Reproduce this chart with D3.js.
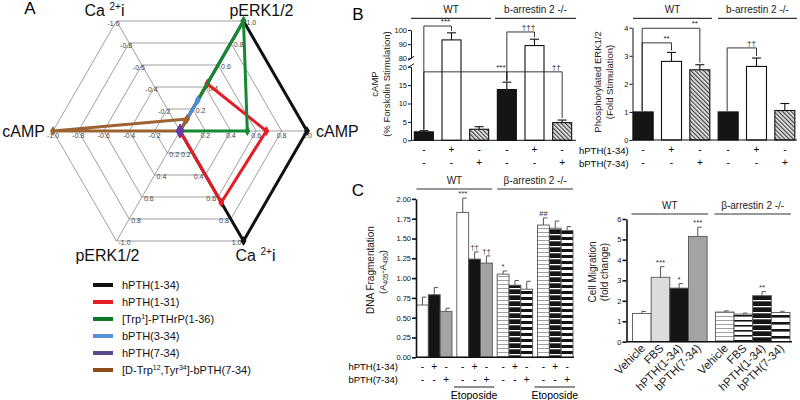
<!DOCTYPE html>
<html><head><meta charset="utf-8">
<script src="https://cdn.jsdelivr.net/npm/d3@7"></script>
<style>body{margin:0;background:#fff} svg{display:block}</style>
</head><body><svg id="c" width="800" height="400"></svg>
<script>
// ---------------- DATA ----------------
// Panel A radar: spokes in drawing order
const radarAxisNames = ["pERK1/2","cAMP","Ca2+i","pERK1/2","cAMP","Ca2+i"];
const radarAngles = [60, 0, -60, -120, 180, 120];
const radarTickLabels = [
  ["0.2","0.4","0.6","0.8","1.0"],
  ["0.2","0.4","0.6","0.8","1.0"],
  ["0.2","0.4","0.6","0.8","1.0"],
  ["0.2","0.4","0.6","0.8","-1.0"],
  ["-0.2","-0.4","-0.6","-0.8","-1.0"],
  ["-0.2","-0.4","-0.6","-0.8","-1.0"]
];
const radarTickValues = [0.2,0.4,0.6,0.8,1.0];
const seriesNames = ["hPTH(1-34)","hPTH(1-31)","[Trp1]-PTHrP(1-36)","bPTH(3-34)","hPTH(7-34)","[D-Trp12,Tyr34]-bPTH(7-34)"];
const valHPTH134 = [1, 1, 1, 0, 0, 0];
const valHPTH131 = [0.43, 0.68, 0.65, 0, 0, 0];
const valTrpPTHrP = [1, 0.53, 0, 0, 0, 0];
const valBPTH334 = [0.28, 0, 0, 0, 0, 0];
const valHPTH734 = [0, 0, 0, 0, 0, 0];
const valDTrp = [0, 0, 0, -0.11, 1, 0];

// Panel B
const bGroups = ["WT","b-arrestin 2 -/-"];
const bRowHPTH = ["-","+","-","-","+","-"];
const bRowBPTH = ["-","-","+","-","-","+"];
const campVals = [2.3, 93, 3.0, 13.8, 89, 4.8];
const campErr = [0.3, 5, 0.7, 2.0, 4.5, 0.7];
const campLowTicks = [0,5,10,15,20];
const campHighTicks = [80,90,100];
const campSigFrom = [0, 0, 3, 3];
const campSigTo = [1, 3, 5, 4];
const campSigLevel = [102.8, 18.6, 18.6, 98.6];
const campSigLabel = ["***","***","\u2020\u2020","\u2020\u2020\u2020"];
const perkVals = [1.0, 2.8, 2.5, 1.0, 2.62, 1.05];
const perkErr = [0, 0.32, 0.18, 0, 0.3, 0.25];
const perkTicks = [0,1,2,3,4];
const perkSigFrom = [0, 0, 3];
const perkSigTo = [1, 2, 4];
const perkSigLevel = [3.46, 3.98, 3.28];
const perkSigLabel = ["**","**","\u2020\u2020"];

// Panel C
const cGroups = ["WT","\u03b2-arrestin 2 -/-"];
const dnaVals = [0.66,0.79,0.58, 1.83,1.24,1.19, 1.05,0.91,0.86, 1.67,1.63,1.60];
const dnaErr  = [0.10,0.09,0.04, 0.18,0.09,0.09, 0.04,0.06,0.10, 0.09,0.09,0.05];
const dnaSig  = ["","","", "***","\u2020\u2020","\u2020\u2020", "*","","", "##","",""];
const dnaRowHPTH = ["-","+","-","-","+","-","-","+","-","-","+","-"];
const dnaRowBPTH = ["-","-","+","-","-","+","-","-","+","-","-","+"];
const dnaTicks = [0,0.25,0.5,0.75,1.0,1.25,1.5,1.75,2.0];
const migCats = ["Vehicle","FBS","hPTH(1-34)","bPTH(7-34)"];
const migWT = [1.38, 3.15, 2.62, 5.15];
const migWTErr = [0.10, 0.52, 0.22, 0.45];
const migKO = [1.45, 1.35, 2.25, 1.43];
const migKOErr = [0.06, 0.05, 0.20, 0.06];
const migSigWT = ["","***","*","***"];
const migSigKO = ["","","**",""];
const migTicks = [0,1,2,3,4,5,6];

// ---------------- SETUP ----------------
const FONT = '"Liberation Sans", Arial, Helvetica, sans-serif';
const svg = d3.select("#c").attr("font-family", FONT);
const defs = svg.append("defs");
function stripe(id, h, bg, fg, lh){
  const p = defs.append("pattern").attr("id",id).attr("patternUnits","userSpaceOnUse").attr("width",8).attr("height",h);
  p.append("rect").attr("width",8).attr("height",h).attr("fill",bg);
  p.append("rect").attr("width",8).attr("height",lh).attr("fill",fg);
}
stripe("sGray",4,"#fff","#a0a0a0",1);
stripe("sBlkW",6,"#151515","#fff",1.3);
stripe("sBW",6,"#151515","#fff",3);
stripe("sBold",7,"#fff","#151515",2.6);
stripe("sThin",5,"#fff","#151515",1.6);
const hp = defs.append("pattern").attr("id","hatch").attr("patternUnits","userSpaceOnUse")
  .attr("width",3).attr("height",3).attr("patternTransform","rotate(-45)");
hp.append("rect").attr("width",3).attr("height",3).attr("fill","#e6e6e6");
hp.append("rect").attr("width",1.2).attr("height",3).attr("fill","#444");

const fills = {black:"#151515", white:"#fff", hatch:"url(#hatch)", gray:"#a3a3a3", lgray:"#dcdcdc",
  sGray:"url(#sGray)", sBlkW:"url(#sBlkW)", sBW:"url(#sBW)", sBold:"url(#sBold)", sThin:"url(#sThin)"};

// ---------------- PANEL A ----------------
const gA = svg.append("g");
const cx = 180, cy = 131;
const rS = d3.scaleLinear().domain([0,1]).range([0,127]);
const pt = (v,a) => [cx + rS(v)*Math.cos(a*Math.PI/180), cy - rS(v)*Math.sin(a*Math.PI/180)];
const closed = d3.line().curve(d3.curveLinearClosed);

radarTickValues.forEach(k => {
  gA.append("path").attr("d", closed(radarAngles.map(a => pt(k,a))))
    .attr("fill","none").attr("stroke","#777").attr("stroke-width",0.7);
});
radarAngles.forEach(a => {
  const e = pt(1,a);
  gA.append("line").attr("x1",cx).attr("y1",cy).attr("x2",e[0]).attr("y2",e[1]).attr("stroke","#777").attr("stroke-width",0.7);
});
const tickOff = [[3,4,"start"],[0,7,"middle"],[-2,4,"end"],[2,4,"start"],[0,7,"middle"],[-3,5,"middle"]];
radarAngles.forEach((a,i) => {
  radarTickValues.forEach((k,j) => {
    const p = pt(k,a);
    gA.append("text").attr("x",p[0]+tickOff[i][0]).attr("y",p[1]+tickOff[i][1])
      .attr("text-anchor",tickOff[i][2]).attr("font-size",7).attr("fill","#444").text(radarTickLabels[i][j]);
  });
});
gA.append("text").attr("x",cx).attr("y",cy+7).attr("text-anchor","middle").attr("font-size",7).attr("fill","#444").text("0");

const nameOff = [[18,-5,"middle"],[9,6,"start"],[12,20,"middle"],[-9,20,"middle"],[-8,6,"end"],[-12,-5,"middle"]];
radarAngles.forEach((a,i) => {
  const e = pt(1,a);
  const t = gA.append("text").attr("x",e[0]+nameOff[i][0]).attr("y",e[1]+nameOff[i][1])
    .attr("text-anchor",nameOff[i][2]).attr("font-size",16).attr("fill","#111");
  if (radarAxisNames[i] === "Ca2+i") {
    t.append("tspan").text("Ca ");
    t.append("tspan").attr("font-size",10).attr("dy",-6).text("2+");
    t.append("tspan").attr("dy",6).text("i");
  } else t.text(radarAxisNames[i]);
});

const seriesVals = [valHPTH134, valHPTH131, valTrpPTHrP, valBPTH334, valDTrp, valHPTH734];
const seriesIdx = [0,1,2,3,5,4];
const seriesColors = ["#111","#e41e26","#138a32","#4a8fd8","#6a3aa6","#9c6232"];
const legendColors = ["#111","#e41e26","#0d7a26","#5593dc","#5a4a8a","#8d4a1a"];
seriesVals.forEach((vals, s) => {
  const col = seriesColors[seriesIdx[s]];
  const pts = vals.map((v,i) => pt(v, radarAngles[i]));
  gA.append("path").attr("d", closed(pts)).attr("fill","none").attr("stroke",col)
    .attr("stroke-width",3).attr("stroke-linejoin","round");
  pts.forEach(p => gA.append("path").attr("d", d3.symbol().type(d3.symbolDiamond).size(seriesIdx[s]===4?55:30)())
    .attr("transform",`translate(${p[0]},${p[1]})`).attr("fill",col));
});

gA.append("text").attr("x",30).attr("y",14).attr("font-size",17).attr("text-anchor","middle").text("A");

const lg = gA.append("g");
seriesNames.forEach((n,i) => {
  const y = 285 + i*17;
  lg.append("line").attr("x1",93).attr("x2",113).attr("y1",y).attr("y2",y).attr("stroke",legendColors[i]).attr("stroke-width",4);
  const t = lg.append("text").attr("x",122).attr("y",y+4).attr("font-size",11).attr("fill","#111");
  const m = n.match(/^(\[Trp)(1)(\].*)$/);
  const m2 = n.match(/^(\[D-Trp)(12)(,Tyr)(34)(\].*)$/);
  if (m) { t.append("tspan").text(m[1]); t.append("tspan").attr("font-size",7).attr("dy",-4).text(m[2]); t.append("tspan").attr("dy",4).text(m[3]); }
  else if (m2) { t.append("tspan").text(m2[1]); t.append("tspan").attr("font-size",7).attr("dy",-4).text(m2[2]);
    t.append("tspan").attr("dy",4).text(m2[3]); t.append("tspan").attr("font-size",7).attr("dy",-4).text(m2[4]); t.append("tspan").attr("dy",4).text(m2[5]); }
  else t.text(n);
});

// ---------------- helpers ----------------
function styleAxis(g, fs, sw){
  g.attr("font-family",FONT).attr("font-size",fs);
  g.selectAll("path.domain").attr("stroke","#111").attr("stroke-width",sw);
  g.selectAll(".tick line").attr("stroke","#111").attr("stroke-width",sw);
  g.selectAll(".tick text").attr("fill","#111");
}
function groupLine(g, x1, x2, y, label, fs){
  g.append("line").attr("x1",x1).attr("x2",x2).attr("y1",y).attr("y2",y).attr("stroke","#333").attr("stroke-width",1.2);
  g.append("text").attr("x",(x1+x2)/2).attr("y",y-5).attr("text-anchor","middle").attr("font-size",fs).attr("fill","#222").text(label);
}
function rotLabel(g, x, y, fs){
  return g.append("text").attr("transform",`translate(${x},${y}) rotate(-90)`).attr("text-anchor","middle").attr("font-size",fs).attr("fill","#222");
}
const intFmt = d3.format("d");

// ---------------- PANEL B (cAMP) ----------------
const gB = svg.append("g");
gB.append("text").attr("x",358).attr("y",20).attr("font-size",17).attr("text-anchor","middle").text("B");
const xB1 = d3.scalePoint().domain(d3.range(6)).range([410,576]).padding(0.5);
const yLow = d3.scaleLinear().domain([0,20]).range([140.3,66.7]);
const yUp = d3.scaleLinear().domain([80,100]).range([58.3,30]);
const yC = v => v <= 20 ? yLow(v) : yUp(v);
const bStyle = ["black","white","hatch","black","white","hatch"];
const BW = 19;
campVals.forEach((v,i) => {
  const c = xB1(i);
  gB.append("rect").attr("x",c-BW/2).attr("y",yC(v)).attr("width",BW).attr("height",yLow(0)-yC(v))
    .attr("fill",fills[bStyle[i]]).attr("stroke","#111").attr("stroke-width",1.1);
  const t = yC(v+campErr[i]);
  gB.append("line").attr("x1",c).attr("x2",c).attr("y1",yC(v)).attr("y2",t).attr("stroke","#111").attr("stroke-width",1.1);
  gB.append("line").attr("x1",c-4.5).attr("x2",c+4.5).attr("y1",t).attr("y2",t).attr("stroke","#111").attr("stroke-width",1.1);
});
gB.append("g").attr("transform","translate(411,0)").call(d3.axisLeft(yLow).tickValues(campLowTicks).tickFormat(intFmt).tickSize(3).tickSizeOuter(0).tickPadding(1)).call(g=>styleAxis(g,7.5,1));
gB.append("g").attr("transform","translate(411,0)").call(d3.axisLeft(yUp).tickValues(campHighTicks).tickFormat(intFmt).tickSize(3).tickSizeOuter(0).tickPadding(1)).call(g=>styleAxis(g,7.5,1));
gB.append("line").attr("x1",408).attr("x2",414).attr("y1",yLow(20)+1).attr("y2",yLow(20)-3).attr("stroke","#111");
gB.append("line").attr("x1",408).attr("x2",414).attr("y1",yUp(80)+2).attr("y2",yUp(80)-2).attr("stroke","#111");
gB.append("line").attr("x1",411).attr("x2",576).attr("y1",yLow(0)).attr("y2",yLow(0)).attr("stroke","#111").attr("stroke-width",1);
campSigFrom.forEach((f,k) => {
  const xl = xB1(f), xr = xB1(campSigTo[k]), yl = yC(campSigLevel[k]);
  const yf = yC(campVals[f]+campErr[f]) - 1, yt = yC(campVals[campSigTo[k]]+campErr[campSigTo[k]]) - 2;
  gB.append("path").attr("d",`M${xl},${yf}V${yl}H${xr}V${yt}`).attr("fill","none").attr("stroke","#222").attr("stroke-width",0.9);
  gB.append("text").attr("x",xr-6).attr("y",yl-2).attr("text-anchor","middle").attr("font-size",8).attr("fill","#222").text(campSigLabel[k]);
});
rotLabel(gB, 378, 84, 9.5).text("cAMP");
rotLabel(gB, 390, 84, 9.5).text("(% Forskolin Stimulation)");
groupLine(gB, 411, 491, 18.3, bGroups[0], 10);
groupLine(gB, 495, 576, 18.3, bGroups[1], 10);
bRowHPTH.forEach((s,i) => {
  gB.append("text").attr("x",xB1(i)).attr("y",153).attr("text-anchor","middle").attr("font-size",10).text(s);
  gB.append("text").attr("x",xB1(i)).attr("y",166).attr("text-anchor","middle").attr("font-size",10).text(bRowBPTH[i]);
});
gB.append("text").attr("x",579).attr("y",153.5).attr("font-size",9.5).text("hPTH(1-34)");
gB.append("text").attr("x",579).attr("y",166.5).attr("font-size",9.5).text("bPTH(7-34)");

// ---------------- PANEL B (pERK) ----------------
const xB2 = d3.scalePoint().domain(d3.range(6)).range([629,799]).padding(0.5);
const yP = d3.scaleLinear().domain([0,4]).range([140,27.7]);
perkVals.forEach((v,i) => {
  const c = xB2(i);
  gB.append("rect").attr("x",c-10).attr("y",yP(v)).attr("width",20).attr("height",yP(0)-yP(v))
    .attr("fill",fills[bStyle[i]]).attr("stroke","#111").attr("stroke-width",1.1);
  if (perkErr[i] > 0) {
    const t = yP(v+perkErr[i]);
    gB.append("line").attr("x1",c).attr("x2",c).attr("y1",yP(v)).attr("y2",t).attr("stroke","#111").attr("stroke-width",1.1);
    gB.append("line").attr("x1",c-4.5).attr("x2",c+4.5).attr("y1",t).attr("y2",t).attr("stroke","#111").attr("stroke-width",1.1);
  }
});
gB.append("g").attr("transform","translate(632.5,0)").call(d3.axisLeft(yP).tickValues(perkTicks).tickFormat(intFmt).tickSize(3).tickSizeOuter(0).tickPadding(1)).call(g=>styleAxis(g,7.5,1));
gB.append("line").attr("x1",632.5).attr("x2",797).attr("y1",yP(0)).attr("y2",yP(0)).attr("stroke","#111");
perkSigFrom.forEach((f,k) => {
  const xl = xB2(f)-1, xr = xB2(perkSigTo[k]), yl = yP(perkSigLevel[k]);
  const yf = yP(perkVals[f]+perkErr[f]) - 1, yt = yP(perkVals[perkSigTo[k]]+perkErr[perkSigTo[k]]) - 2;
  gB.append("path").attr("d",`M${xl},${yf}V${yl}H${xr}V${yt}`).attr("fill","none").attr("stroke","#222").attr("stroke-width",0.9);
  gB.append("text").attr("x",xr-5).attr("y",yl-2).attr("text-anchor","middle").attr("font-size",8).attr("fill","#222").text(perkSigLabel[k]);
});
rotLabel(gB, 601, 82, 9.5).text("Phosphorylated ERK1/2");
rotLabel(gB, 613, 82, 9.5).text("(Fold Stimulation)");
groupLine(gB, 633, 712, 18.3, bGroups[0], 10);
groupLine(gB, 718, 797, 18.3, bGroups[1], 10);
bRowHPTH.forEach((s,i) => {
  gB.append("text").attr("x",xB2(i)).attr("y",153).attr("text-anchor","middle").attr("font-size",10).text(s);
  gB.append("text").attr("x",xB2(i)).attr("y",166).attr("text-anchor","middle").attr("font-size",10).text(bRowBPTH[i]);
});

// ---------------- PANEL C (DNA) ----------------
const gC = svg.append("g");
gC.append("text").attr("x",358).attr("y",196).attr("font-size",17).attr("text-anchor","middle").text("C");
const yD = d3.scaleLinear().domain([0,2]).range([357.3,198.9]);
const xDG = d3.scaleBand().domain(d3.range(4)).range([416.5,573]).paddingInner(0.12);
const xDI = d3.scaleBand().domain(d3.range(3)).range([0, xDG.bandwidth()]);
const dnaStyle = ["white","black","gray","white","black","gray","sGray","sBlkW","sBW","sGray","sBlkW","sBW"];
dnaVals.forEach((v,i) => {
  const x = xDG(Math.floor(i/3)) + xDI(i%3), w = xDI.bandwidth(), c = x + w/2;
  gC.append("rect").attr("x",x).attr("y",yD(v)).attr("width",w).attr("height",yD(0)-yD(v))
    .attr("fill",fills[dnaStyle[i]]).attr("stroke","#555").attr("stroke-width",0.9);
  const t = yD(v+dnaErr[i]);
  gC.append("line").attr("x1",c).attr("x2",c).attr("y1",yD(v)).attr("y2",t).attr("stroke","#555").attr("stroke-width",1);
  gC.append("line").attr("x1",c).attr("x2",c+4).attr("y1",t).attr("y2",t).attr("stroke","#555").attr("stroke-width",1);
  if (dnaSig[i]) gC.append("text").attr("x",c).attr("y",t-2).attr("text-anchor","middle").attr("font-size",7.5).attr("fill","#333").text(dnaSig[i]);
  gC.append("text").attr("x",c).attr("y",370).attr("text-anchor","middle").attr("font-size",10).text(dnaRowHPTH[i]);
  gC.append("text").attr("x",c).attr("y",383).attr("text-anchor","middle").attr("font-size",10).text(dnaRowBPTH[i]);
});
gC.append("g").attr("transform","translate(416,0)").call(d3.axisLeft(yD).tickValues(dnaTicks).tickFormat(d3.format(".2f")).tickSize(4).tickSizeOuter(0).tickPadding(1)).call(g=>styleAxis(g,7.5,1.6));
gC.append("line").attr("x1",416).attr("x2",574).attr("y1",yD(0)).attr("y2",yD(0)).attr("stroke","#111").attr("stroke-width",1.6);
gC.append("text").attr("x",398).attr("y",370).attr("text-anchor","end").attr("font-size",9.5).text("hPTH(1-34)");
gC.append("text").attr("x",398).attr("y",383).attr("text-anchor","end").attr("font-size",9.5).text("bPTH(7-34)");
[1,3].forEach(gi => {
  const x1 = xDG(gi)-3, x2 = xDG(gi)+xDG.bandwidth()+2;
  gC.append("line").attr("x1",x1).attr("x2",x2).attr("y1",387).attr("y2",387).attr("stroke","#222").attr("stroke-width",1.1);
  gC.append("text").attr("x",(x1+x2)/2).attr("y",399).attr("text-anchor","middle").attr("font-size",10.5).text("Etoposide");
});
groupLine(gC, xDG(0), xDG(1)+xDG.bandwidth(), 189, cGroups[0], 10);
groupLine(gC, xDG(2), xDG(3)+xDG.bandwidth(), 189, cGroups[1], 10);
rotLabel(gC, 374, 270, 10).text("DNA Fragmentation");
const tA = rotLabel(gC, 386, 272, 9.5);
tA.append("tspan").text("(A"); tA.append("tspan").attr("font-size",6.5).attr("dy",2).text("405");
tA.append("tspan").attr("dy",-2).text("-A"); tA.append("tspan").attr("font-size",6.5).attr("dy",2).text("490");
tA.append("tspan").attr("dy",-2).text(")");

// ---------------- PANEL C (Migration) ----------------
const yM = d3.scaleLinear().domain([0,6]).range([341.7,219]);
const xMG = d3.scaleBand().domain([0,1]).range([632.5,790]).paddingInner(0.1);
const xMI = d3.scaleBand().domain(d3.range(4)).range([0, xMG.bandwidth()]);
const migStyleWT = ["white","lgray","black","gray"];
const migStyleKO = ["sGray","sThin","sBlkW","sBold"];
[[migWT,migWTErr,migStyleWT,migSigWT],[migKO,migKOErr,migStyleKO,migSigKO]].forEach((grp,gi) => {
  grp[0].forEach((v,i) => {
    const x = xMG(gi) + xMI(i), w = xMI.bandwidth(), c = x + w/2;
    gC.append("rect").attr("x",x).attr("y",yM(v)).attr("width",w).attr("height",yM(0)-yM(v))
      .attr("fill",fills[grp[2][i]]).attr("stroke","#555").attr("stroke-width",0.9);
    const t = yM(v+grp[1][i]);
    gC.append("line").attr("x1",c).attr("x2",c).attr("y1",yM(v)).attr("y2",t).attr("stroke","#555").attr("stroke-width",1);
    gC.append("line").attr("x1",c).attr("x2",c+4).attr("y1",t).attr("y2",t).attr("stroke","#555").attr("stroke-width",1);
    if (grp[3][i]) gC.append("text").attr("x",c).attr("y",t-2).attr("text-anchor","middle").attr("font-size",8).attr("fill","#333").text(grp[3][i]);
    gC.append("text").attr("transform",`translate(${c+4},${349}) rotate(-45)`).attr("text-anchor","end").attr("font-size",11.5).attr("fill","#222").text(migCats[i]);
  });
  groupLine(gC, xMG(gi)-1, xMG(gi)+xMG.bandwidth()+1, 214, cGroups[gi], 10);
});
gC.append("g").attr("transform","translate(626.5,0)").call(d3.axisLeft(yM).tickValues(migTicks).tickFormat(intFmt).tickSize(4).tickSizeOuter(0).tickPadding(1)).call(g=>styleAxis(g,7.5,1.6));
gC.append("line").attr("x1",626.5).attr("x2",792).attr("y1",yM(0)).attr("y2",yM(0)).attr("stroke","#111").attr("stroke-width",1.6);
rotLabel(gC, 596, 272, 10).text("Cell Migration");
rotLabel(gC, 608, 272, 10).text("(fold change)");
</script></body></html>
